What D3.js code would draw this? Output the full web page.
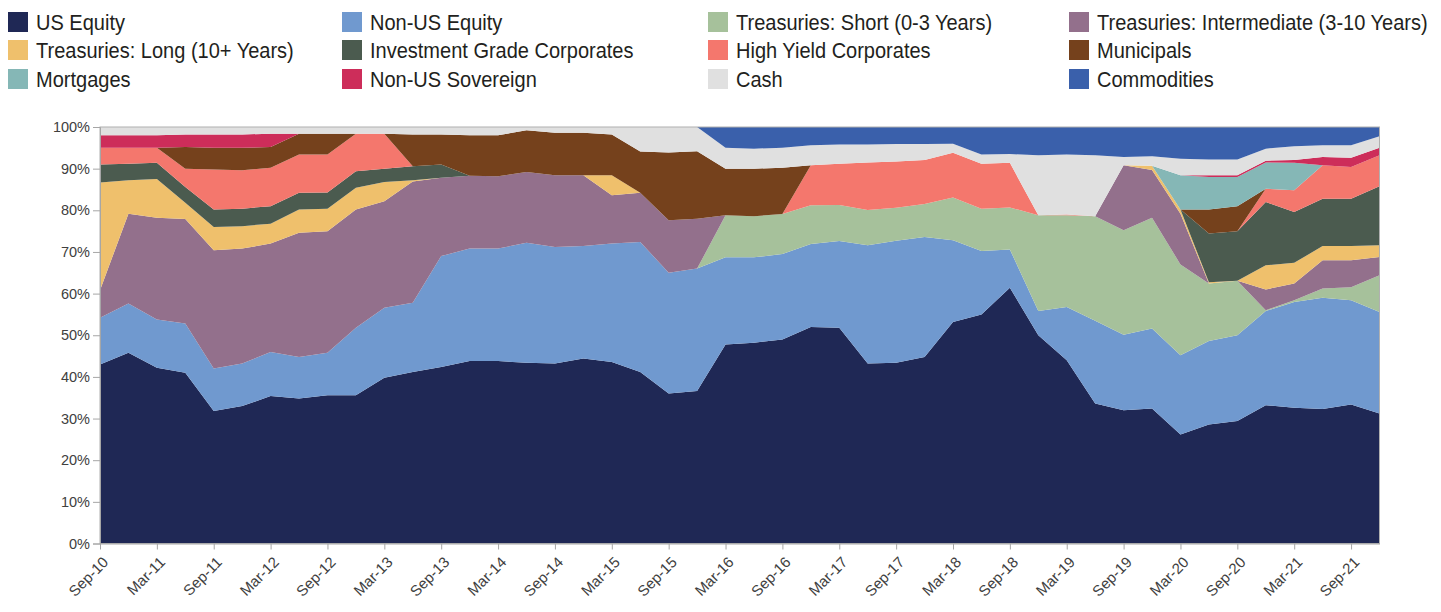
<!DOCTYPE html>
<html>
<head>
<meta charset="utf-8">
<script src="https://cdn.jsdelivr.net/npm/d3@7"></script>
<style>
  html, body { margin: 0; padding: 0; background: #fff; }
  #chart { width: 1441px; height: 612px; }
  .legend text { font-family: "Liberation Sans", Arial, sans-serif; font-size: 22px; fill: #231f20; }
  .axis text { font-family: "Liberation Sans", Arial, sans-serif; font-size: 15px; fill: #404040; }
  .axis path, .axis line { stroke: #a6a6a6; }
</style>
</head>
<body>
<div id="chart"></div>
<script>
// quarterly allocation, % of portfolio

const quarters = [
  'Sep-10','Dec-10','Mar-11','Jun-11','Sep-11','Dec-11','Mar-12','Jun-12','Sep-12','Dec-12',
  'Mar-13','Jun-13','Sep-13','Dec-13','Mar-14','Jun-14','Sep-14','Dec-14','Mar-15','Jun-15',
  'Sep-15','Dec-15','Mar-16','Jun-16','Sep-16','Dec-16','Mar-17','Jun-17','Sep-17','Dec-17',
  'Mar-18','Jun-18','Sep-18','Dec-18','Mar-19','Jun-19','Sep-19','Dec-19','Mar-20','Jun-20',
  'Sep-20','Dec-20','Mar-21','Jun-21','Sep-21','Dec-21'
];

const tickLabels = [
  'Sep-10','Mar-11','Sep-11','Mar-12','Sep-12','Mar-13','Sep-13','Mar-14','Sep-14','Mar-15',
  'Sep-15','Mar-16','Sep-16','Mar-17','Sep-17','Mar-18','Sep-18','Mar-19','Sep-19','Mar-20',
  'Sep-20','Mar-21','Sep-21'
];

const yTicks = [0, 10, 20, 30, 40, 50, 60, 70, 80, 90, 100];

const usEquity    = [43,45.8,42.2,41,31.8,33,35.4,34.8,35.6,35.6,39.8,41.2,42.4,43.8,43.8,43.4,43.2,44.4,43.6,41.2,36,36.6,47.8,48.2,49,52,51.8,43.2,43.4,44.8,53.2,55,61.4,50,44,33.6,32,32.4,26.2,28.6,29.4,33.2,32.6,32.3,33.4,31.2];
const nonUsEquity = [11.2,11.8,11.6,11.8,10.2,10.2,10.6,10,10.2,16.2,16.8,16.6,26.6,27,27,28.8,28,27,28.4,31.2,29,29.4,20.9,20.5,20.5,19.9,20.8,28.4,29.3,28.8,19.6,15.2,9.2,5.8,12.8,19.9,18.1,19.2,19,20,20.6,22.6,25.4,26.7,25,24.4];
const tsyShort    = [0,0,0,0,0,0,0,0,0,0,0,0,0,0,0,0,0,0,0,0,0,0,10.1,9.9,9.6,9.3,8.7,8.5,7.9,7.9,10.3,10.2,10.1,23,22,25.1,25.1,26.6,21.8,13.8,13.1,0.2,0.4,2.2,3.1,8.8];
const tsyInter    = [6.6,21.6,24.4,25.1,28.4,27.6,26,29.8,29.2,28.4,25.6,29.1,18.8,17.5,17.4,17,17.2,17,11.6,11.8,12.6,12,0,0,0,0,0,0,0,0,0,0,0,0,0,0,15.6,11.5,12.2,0,0,5,4,6.8,6.5,4.4];
const tsyLong     = [25.9,8,9.3,3.9,5.6,5.4,4.8,5.6,5.4,5.2,4.6,0.3,0,0,0,0,0,0,4.8,0,0,0,0,0,0,0,0,0,0,0,0,0,0,0,0,0,0,1,1,0.3,0,5.8,5,3.4,3.4,2.8];
const igCorp      = [4.3,4,3.9,3.8,4.2,4.2,4.2,4,3.9,4,3.2,3.4,3.2,0,0,0,0,0,0,0,0,0,0,0,0,0,0,0,0,0,0,0,0,0,0,0,0,0,0,11.7,11.9,15.2,12.2,11.4,11.4,14.2];
const hyCorp      = [4,3.8,3.6,4.4,9.6,9.2,9.2,9.2,9.1,9,8.4,0,0,0,0,0,0,0,0,0,0,0,0,0,0,9.6,9.9,11.4,11.1,10.6,10.7,10.8,10.7,0,0.2,0,0,0,0,0,0,3.2,5.2,8,7.6,7.4];
const munis       = [0,0,0,5.2,5.2,5.4,5,5,5,0,0,7.6,7.2,9.7,9.8,10,10.2,10.2,9.8,9.9,16.3,16.2,11.2,11.4,11.1,0,0,0,0,0,0,0,0,0,0,0,0,0,0,5.8,6,0,0,0,0,0];
const mortgages   = [0,0,0,0,0,0,0,0,0,0,0,0,0,0,0,0,0,0,0,0,0,0,0,0,0,0,0,0,0,0,0,0,0,0,0,0,0,0,8.2,7.8,7,6.3,6.6,0,0,0];
const nonUsSov    = [3,3,3,3,3.2,3.2,3.2,0,0,0,0,0,0,0,0,0,0,0,0,0,0,0,0,0,0,0,0,0,0,0,0,0,0,0,0,0,0,0,0,0.4,0.4,0.4,0.7,2,2.2,1.8];
const cash        = [2,2,2,1.8,1.8,1.8,1.6,1.6,1.6,1.6,1.6,1.8,1.8,2,2,0.8,1.4,1.4,1.8,5.9,6.1,5.8,5,4.8,4.8,4.8,4.6,4.3,4.2,3.8,2.2,2.2,2.1,14.4,14.4,14.6,2,2.3,4,3.8,3.8,2.9,3.3,2.8,3,2.8];
const commodities = [0,0,0,0,0,0,0,0,0,0,0,0,0,0,0,0,0,0,0,0,0,0,5,5.2,5,4.4,4.2,4.2,4.1,4.1,4,6.6,6.5,6.8,6.6,6.8,7.2,7,7.6,7.8,7.8,5.2,4.6,4.4,4.4,2.2];

const seriesNames = [
  'US Equity', 'Non-US Equity', 'Treasuries: Short (0-3 Years)', 'Treasuries: Intermediate (3-10 Years)',
  'Treasuries: Long (10+ Years)', 'Investment Grade Corporates', 'High Yield Corporates', 'Municipals',
  'Mortgages', 'Non-US Sovereign', 'Cash', 'Commodities'
];
const seriesValues = [
  usEquity, nonUsEquity, tsyShort, tsyInter, tsyLong, igCorp,
  hyCorp, munis, mortgages, nonUsSov, cash, commodities
];
const seriesColors = [
  '#1f2855', '#7099cf', '#a6c19b', '#93708c', '#efc06c', '#4b5b4f',
  '#f4776d', '#75411c', '#85b7b6', '#cd2d5a', '#e0e0e0', '#3a60ab'
];

// layout

const W = 1441, H = 612;
const plot = { left: 100, right: 1379.5, top: 127, bottom: 543.5 };
const legendCols = [8, 342, 708, 1069];
const legendRows = [22, 50, 79];
const legendSqueeze = 0.91;   // reference legend uses a condensed face

function render() {
  const svg = d3.select('#chart').append('svg')
    .attr('width', W)
    .attr('height', H);

  // rows for d3.stack
  const rows = quarters.map((q, i) => {
    const row = { q };
    seriesNames.forEach((name, s) => { row[name] = seriesValues[s][i]; });
    return row;
  });

  const x = d3.scalePoint(quarters, [plot.left, plot.right]);
  const y = d3.scaleLinear([0, 100], [plot.bottom, plot.top]);
  const color = d3.scaleOrdinal(seriesNames, seriesColors);

  const stacked = d3.stack().keys(seriesNames)(rows);

  const area = d3.area()
    .x(d => x(d.data.q))
    .y0(d => y(d[0]))
    .y1(d => y(d[1]));

  svg.append('g')
    .selectAll('path')
    .data(stacked)
    .join('path')
    .attr('fill', d => color(d.key))
    .attr('d', area);

  // plot frame
  svg.append('rect')
    .attr('x', plot.left)
    .attr('y', plot.top)
    .attr('width', plot.right - plot.left)
    .attr('height', plot.bottom - plot.top)
    .attr('fill', 'none')
    .attr('stroke', '#b0b0b0')
    .attr('stroke-width', 1);

  // y axis
  svg.append('g')
    .attr('class', 'axis')
    .attr('transform', `translate(${plot.left},0)`)
    .call(d3.axisLeft(y)
      .tickValues(yTicks)
      .tickFormat(d => d + '%')
      .tickSize(7)
      .tickPadding(3))
    .call(g => g.selectAll('.tick text').style('font-size', '14.5px'));

  // x axis, rotated labels
  svg.append('g')
    .attr('class', 'axis')
    .attr('transform', `translate(0,${plot.bottom})`)
    .call(d3.axisBottom(x)
      .tickValues(tickLabels)
      .tickSize(6)
      .tickSizeOuter(0))
    .call(g => g.selectAll('.tick text')
      .attr('text-anchor', 'end')
      .attr('y', 0)
      .attr('dy', '0.35em')
      .attr('transform', 'translate(5,16) rotate(-45)'));

  // legend
  const legend = svg.append('g').attr('class', 'legend');
  seriesNames.forEach((name, i) => {
    const lx = legendCols[i % 4];
    const ly = legendRows[Math.floor(i / 4)];
    const item = legend.append('g').attr('transform', `translate(${lx},${ly})`);
    item.append('rect')
      .attr('x', 0)
      .attr('y', -10)
      .attr('width', 20)
      .attr('height', 20)
      .attr('fill', color(name));
    item.append('text')
      .attr('transform', `translate(28,0) scale(${legendSqueeze},1)`)
      .attr('dy', '0.35em')
      .text(name);
  });
}

render();
</script>
</body>
</html>
